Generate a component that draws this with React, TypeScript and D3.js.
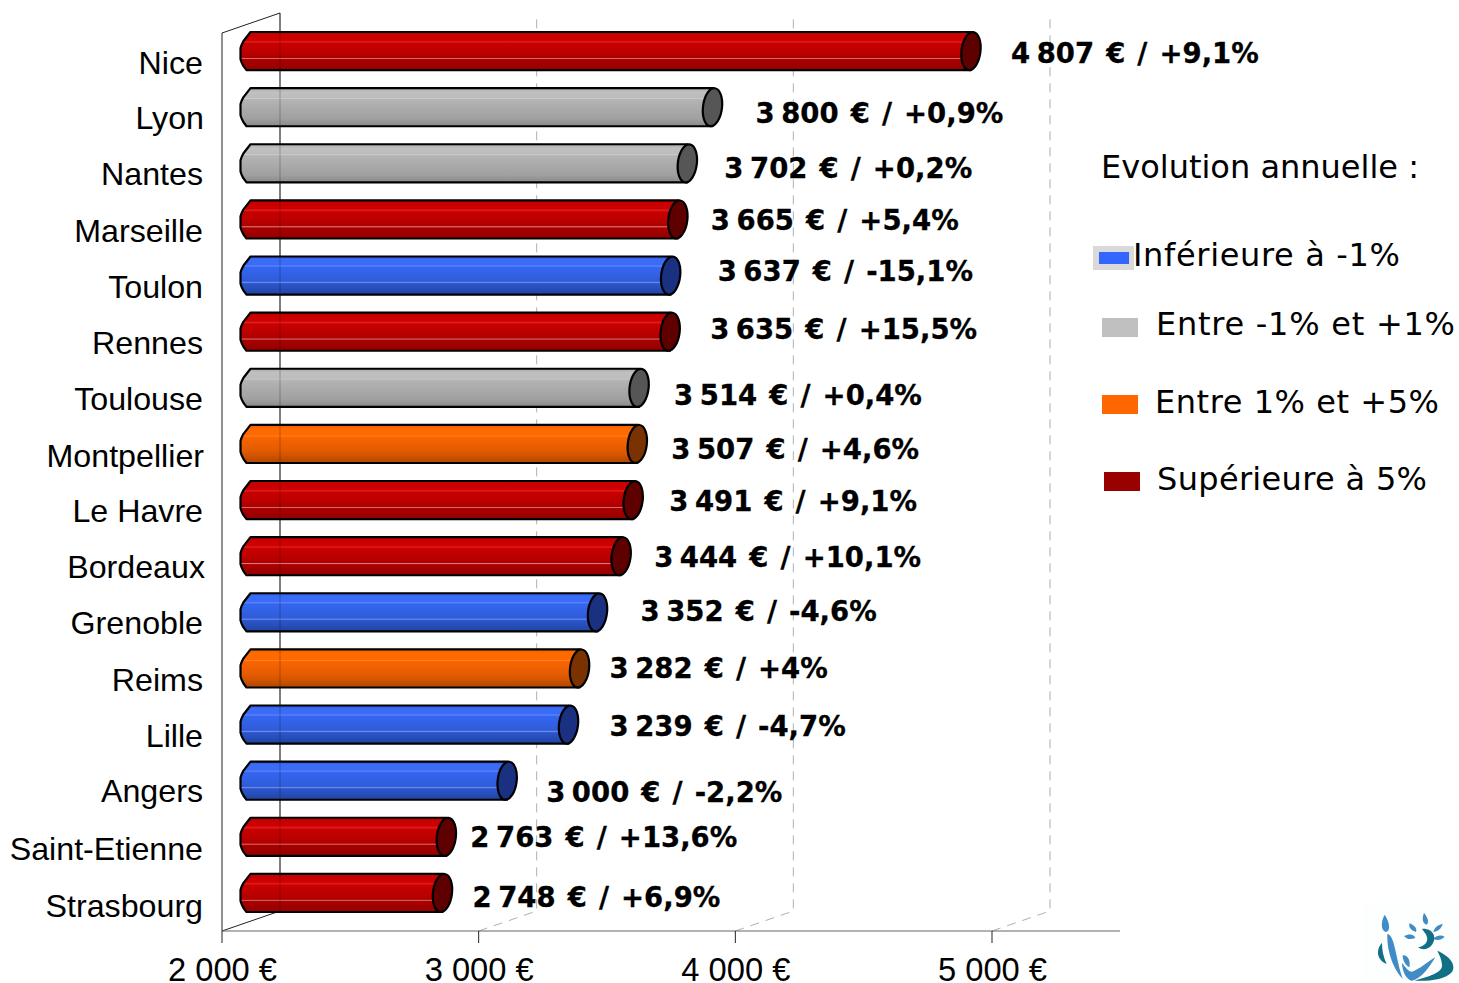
import React from "react";
import * as d3 from "d3";

const cities = ["Nice","Lyon","Nantes","Marseille","Toulon","Rennes","Toulouse","Montpellier","Le Havre","Bordeaux","Grenoble","Reims","Lille","Angers","Saint-Etienne","Strasbourg"];
const prices = [4807,3800,3702,3665,3637,3635,3514,3507,3491,3444,3352,3282,3239,3000,2763,2748];
const changes = ["+9,1%","+0,9%","+0,2%","+5,4%","-15,1%","+15,5%","+0,4%","+4,6%","+9,1%","+10,1%","-4,6%","+4%","-4,7%","-2,2%","+13,6%","+6,9%"];
const groups = ["hi","mid","mid","hi","lo","hi","mid","up","hi","hi","lo","up","lo","lo","hi","hi"];
const axisTicks = [2000,3000,4000,5000];
const axisLabels = ["2 000 €","3 000 €","4 000 €","5 000 €"];
const legendItems = ["Inférieure à -1%","Entre -1% et +1%","Entre 1% et +5%","Supérieure à 5%"];

// hand-placed annotations of the original, as offsets from the computed position
const labelNudgeX = [30,33,27,23,37,30,25,24,26,23,33,20,31,29,14,20];
const labelNudgeY = [2,6,5,1,-5,-3,7,5,1,1,-1,0,1,11,0,4];
const nameNudgeX = [0,1,0,0,0,0,0,1,0,2,0,0,0,0,0,0];
const nameNudgeY = [12,11,11,12,11,11,11,12,11,11,11,12,11,10,12,13];

const palette: Record<string, { stops: [number, string][]; cap: string }> = {
  hi: { cap: "#5f0000", stops: [[0,"#c40000"],[.22,"#d00000"],[.26,"#dc2020"],[.3,"#c80000"],[.5,"#bc0000"],[.67,"#b00000"],[.69,"#d88080"],[.72,"#aa0000"],[1,"#940000"]] },
  mid: { cap: "#565656", stops: [[0,"#a8a8a8"],[.1,"#c0c0c0"],[.25,"#bcbcbc"],[.27,"#cacaca"],[.3,"#b4b4b4"],[.6,"#a8a8a8"],[.8,"#a0a0a0"],[1,"#8a8a8a"]] },
  up: { cap: "#7a3300", stops: [[0,"#ee6000"],[.1,"#ff6a00"],[.27,"#ff6a00"],[.29,"#ff8030"],[.32,"#fa6400"],[.65,"#e45c00"],[.8,"#d25400"],[1,"#b04600"]] },
  lo: { cap: "#1a3080", stops: [[0,"#2e5ce0"],[.08,"#3a6cf8"],[.22,"#3a6cf8"],[.25,"#5f88fa"],[.28,"#3666f2"],[.65,"#2e5cd8"],[.68,"#6c8ce8"],[.71,"#2c56cc"],[1,"#2044a4"]] },
};

const WIDTH = 1459, HEIGHT = 983;
const floorY = 931, backFloorY = 911, wallTop = 13;
const depthX = 58, barOffset = 28.5, rx = 10;
const x = d3.scaleLinear().domain([2000, 5000]).range([222, 992]);
const y = d3.scaleBand<string>().domain(cities).range([23, 921]).paddingInner(0.32).paddingOuter(0.16);
const sans = "'Liberation Sans', Arial, sans-serif";
const dejavu = "'DejaVu Sans', Verdana, sans-serif";
const legendWidths = [267, 299, 284, 270];
const legendX = [1133, 1156, 1155, 1157];
const legendBaseline = [266, 335, 413, 490];

function barPath(x0: number, x1: number, top: number, h: number) {
  const b = top + h, m = top + h / 2;
  const p = d3.path();
  p.moveTo(x1, top);
  p.lineTo(x0 + rx, top);
  p.lineTo(x0 + 3, top + 9);
  p.lineTo(x0 + 1, top + 13);
  p.lineTo(x0, m - 3);
  p.lineTo(x0, m + 8);
  p.lineTo(x0 + 1, b - 8);
  p.lineTo(x0 + 3, b - 4);
  p.lineTo(x0 + 6, b);
  p.lineTo(x1, b);
  return p.toString();
}

function Logo() {
  return (
    <g transform="translate(1360,900) scale(0.3333)" style={{ filter: "blur(0.5px)" }}>
      <rect x={10} y={10} width={285} height={240} fill="#fdfefe" />
      <path d="M74 44 C90 68 92 92 78 96 C62 92 62 66 74 44Z" fill="#3f8cc6" />
      <path d="M82 102 C104 104 106 170 128 236 C104 212 80 160 82 102Z" fill="#3f8cc6" />
      <path d="M66 128 C50 146 46 176 80 192 C70 170 66 150 66 128Z" fill="#116f86" />
      <path d="M192 38 C204 54 208 66 200 74 C186 70 186 54 192 38Z" fill="#3f8cc6" />
      <path d="M148 70 C164 76 172 86 168 96 C154 92 146 84 148 70Z" fill="#3f8cc6" />
      <path d="M132 108 C148 100 162 102 166 114 C150 120 140 118 132 108Z" fill="#3f8cc6" />
      <path d="M248 72 C244 86 234 94 220 96 C224 82 234 74 248 72Z" fill="#3f8cc6" />
      <path d="M254 110 C242 122 230 122 220 116 C230 106 244 104 254 110Z" fill="#3f8cc6" />
      <path d="M186 86 C220 84 232 112 216 134 C206 148 188 152 174 142 C196 138 206 124 200 108 C198 100 192 96 186 86Z" fill="#116f86" />
      <path d="M128 166 C144 164 152 182 148 202 C136 196 128 182 128 166Z" fill="#3f8cc6" />
      <path d="M126 188 C142 210 150 218 160 214 C180 206 202 186 226 172 C208 202 184 236 156 242 C140 240 126 214 126 188Z" fill="#3f8cc6" />
      <path d="M232 152 C270 168 290 196 276 216 C256 240 204 244 164 242 C206 230 248 218 246 196 C246 182 240 168 232 152Z" fill="#116f86" />
    </g>
  );
}

export default function App() {
  const h = y.bandwidth();
  const gridTicks = axisTicks.slice(1);
  return (
    <svg width={WIDTH} height={HEIGHT} viewBox={`0 0 ${WIDTH} ${HEIGHT}`} style={{ position: "absolute", left: 0, top: 0, background: "#fff" }}>
      <defs>
        {Object.entries(palette).map(([k, v]) => (
          <linearGradient key={k} id={`g-${k}`} x1="0" y1="0" x2="0" y2="1">
            {v.stops.map(([o, c], i) => <stop key={i} offset={o} stopColor={c} />)}
          </linearGradient>
        ))}
      </defs>

      {/* walls and gridlines */}
      <path d={`M222 ${floorY}V33L${222 + depthX} ${wallTop}V${backFloorY}L222 ${floorY}`} fill="none" stroke="#222" strokeWidth={1} />
      {gridTicks.map((t) => (
        <path key={t} d={`M${x(t)} ${floorY}L${x(t) + depthX} ${backFloorY}V${wallTop}`} fill="none" stroke="#b0b0b0" strokeWidth={1} strokeDasharray="9 7" />
      ))}
      <line x1={222} x2={1120} y1={floorY} y2={floorY} stroke="#666" strokeWidth={1.2} />
      {axisTicks.map((t, i) => (
        <g key={t}>
          <line x1={x(t)} x2={x(t)} y1={floorY} y2={943} stroke="#222" strokeWidth={1} />
          <text x={x(t) + 0.5} y={980.5} textAnchor="middle" fontFamily={sans} fontSize={32.7} fill="#000">{axisLabels[i]}</text>
        </g>
      ))}

      {/* bars */}
      {cities.map((c, i) => {
        const top = y(c)!;
        const xEnd = x(prices[i]) + barOffset;
        const cy = top + h / 2;
        return (
          <g key={c}>
            <path d={barPath(x(2000) + barOffset - rx, xEnd, top, h) + "Z"} fill={`url(#g-${groups[i]})`} stroke="#000" strokeWidth={2.2} strokeLinejoin="round" />
            <ellipse cx={xEnd} cy={cy} rx={rx - 0.5} ry={h / 2} transform={`rotate(7 ${xEnd} ${cy})`} fill={palette[groups[i]].cap} stroke="#000" strokeWidth={2.2} />
          </g>
        );
      })}
      <line x1={280} x2={280} y1={wallTop} y2={backFloorY} stroke="#000" strokeOpacity={0.25} strokeWidth={1} />

      {/* category labels */}
      {cities.map((c, i) => (
        <text key={c} x={203 + nameNudgeX[i]} y={y(c)! + h / 2 + nameNudgeY[i] + 11} textAnchor="end" fontFamily={sans} fontSize={32.2} fill="#000">{c}</text>
      ))}

      {/* value labels */}
      {cities.map((c, i) => (
        <text key={c} x={x(prices[i]) + barOffset + rx + labelNudgeX[i]} y={y(c)! + h / 2 + labelNudgeY[i] + 10} fontFamily={dejavu} fontWeight="bold" fontSize={27.5} fill="#000" stroke="#000" strokeWidth={0.3} xmlSpace="preserve">
          <tspan wordSpacing={-3}>{`${Math.floor(prices[i] / 1000)} ${String(prices[i] % 1000).padStart(3, "0")}`}</tspan>
          <tspan wordSpacing={2.5}>{` € / ${changes[i]}`}</tspan>
        </text>
      ))}

      {/* legend */}
      <text x={1101} y={178} fontFamily={dejavu} fontSize={32} fill="#000">Evolution annuelle :</text>
      <rect x={1093} y={246} width={41} height={24} fill="#d9d9d9" />
      <rect x={1099} y={252} width={30} height={12} fill="#3366ff" />
      <rect x={1102} y={318} width={36} height={19} fill="#c0c0c0" />
      <rect x={1102} y={395} width={36} height={19} fill="#ff6600" />
      <rect x={1104} y={472} width={36} height={19} fill="#990000" />
      {legendItems.map((t, i) => (
        <text key={t} x={legendX[i]} y={legendBaseline[i]} fontFamily={dejavu} fontSize={32} fill="#000" textLength={legendWidths[i]} lengthAdjust="spacing">{t}</text>
      ))}

      <Logo />
    </svg>
  );
}
